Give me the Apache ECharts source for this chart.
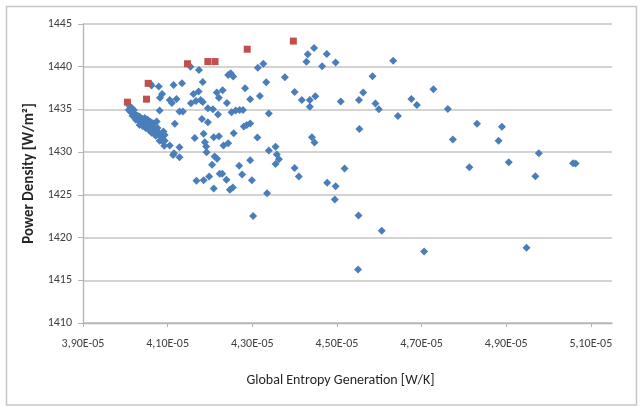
<!DOCTYPE html>
<html>
<head>
<meta charset="utf-8">
<title>Power Density vs Global Entropy Generation</title>
<script src="https://cdn.jsdelivr.net/npm/echarts@6/dist/echarts.min.js"></script>
<style>
  html, body { margin: 0; padding: 0; background: #ffffff; }
  #chart { width: 643px; height: 407px; }
</style>
</head>
<body>
<div id="chart"></div>
<script>
// Entropy generation values are given as mantissas of 1e-5 W/K.
const ENTROPY_UNIT = 1e-5;

// Tick positions on both axes
const entropyTicks = [3.9, 4.1, 4.3, 4.5, 4.7, 4.9, 5.1];
const powerTicks = [1410, 1415, 1420, 1425, 1430, 1435, 1440, 1445];

// All evaluated designs (blue diamonds)
const designEntropy = [
  4.497, 4.633, 4.584, 4.562, 4.552, 4.509, 4.591, 4.599, 4.676, 4.689,
  4.728, 4.762, 4.644, 4.553, 4.774, 4.831, 4.890, 4.882, 4.977, 4.906,
  4.813, 4.969, 5.058, 5.064, 4.518, 4.497, 4.495, 4.551, 4.606, 4.550,
  4.706, 4.948,
  4.113, 4.115, 4.128, 4.192, 4.211, 4.217, 4.205, 4.168, 4.185, 4.198,
  4.209, 4.223, 4.229, 4.239, 4.247, 4.254, 4.269, 4.276, 4.295, 4.299,
  4.302, 4.335, 4.339, 4.358, 4.363, 4.355, 4.400, 4.410, 4.477,
  4.154, 4.174, 4.062, 4.079, 4.087, 4.082, 4.114, 4.134, 4.105, 4.110,
  4.121, 4.081, 4.136, 4.155, 4.161, 4.167, 4.173, 4.183, 4.178, 4.183,
  4.195, 4.207, 4.216, 4.221, 4.230, 4.219, 4.240, 4.243, 4.249, 4.255,
  4.251, 4.261, 4.270, 4.278, 4.283, 4.295, 4.318, 4.313, 4.326, 4.333,
  4.339, 4.377, 4.400, 4.417, 4.436, 4.449, 4.436, 4.431, 4.446, 4.428,
  4.465, 4.476, 4.117, 4.181, 4.195, 4.164, 4.185, 4.188, 4.191, 4.221,
  4.256, 4.243, 4.232, 4.280, 4.287, 4.295, 4.312, 4.355, 4.441, 4.447,
  4.128, 4.105, 4.060, 4.092, 4.081, 4.090, 4.093, 4.088, 4.074, 4.065,
  4.074, 4.209, 4.128,
  4.010, 4.015, 4.020, 4.013, 4.008, 4.017, 4.025, 4.022, 4.029, 4.034,
  4.027, 4.032, 4.036, 4.041, 4.046, 4.039, 4.043, 4.048, 4.053, 4.050,
  4.055, 4.060, 4.058, 4.062, 4.067, 4.034, 4.041, 4.048, 4.055, 4.065,
  4.069, 4.062, 4.074, 4.079, 4.072, 4.084, 4.088, 4.081, 4.093, 4.076,
  4.025, 4.017
];
const designPower = [
  1440.48, 1440.71, 1438.88, 1436.97, 1436.11, 1435.92, 1435.68, 1435.03, 1436.23, 1435.53,
  1437.36, 1435.06, 1434.24, 1432.72, 1431.47, 1433.31, 1432.96, 1431.32, 1429.88, 1428.83,
  1428.24, 1427.19, 1428.71, 1428.67, 1428.08, 1426.02, 1424.45, 1422.59, 1420.80, 1416.27,
  1418.38, 1418.81,
  1429.68, 1429.88, 1429.41, 1430.00, 1429.49, 1429.22, 1428.51, 1426.64, 1426.72, 1427.15,
  1425.74, 1427.46, 1427.46, 1426.76, 1425.59, 1425.86, 1428.40, 1427.38, 1429.06, 1426.72,
  1422.52, 1425.20, 1430.19, 1429.72, 1429.18, 1428.60, 1428.13, 1427.15, 1426.41,
  1440.01, 1439.62, 1437.79, 1437.67, 1436.82, 1436.38, 1437.87, 1438.07, 1436.11, 1435.76,
  1436.23, 1434.86, 1434.75, 1435.73, 1436.82, 1436.00, 1437.09, 1438.22, 1436.11, 1435.88,
  1435.14, 1435.03, 1436.97, 1436.38, 1437.25, 1434.40, 1435.76, 1439.04, 1439.24, 1438.84,
  1434.67, 1434.86, 1434.94, 1434.94, 1437.48, 1436.20, 1436.58, 1439.89, 1440.36, 1438.18,
  1434.51, 1438.77, 1437.05, 1436.11, 1436.11, 1436.55, 1435.30, 1441.46, 1442.19, 1440.59,
  1440.05, 1441.49, 1433.31, 1433.89, 1433.51, 1431.67, 1432.14, 1431.17, 1430.66, 1431.87,
  1432.22, 1431.05, 1430.77, 1433.00, 1433.19, 1433.34, 1431.71, 1430.62, 1431.75, 1431.12,
  1430.58, 1430.77, 1437.99, 1430.74, 1432.14, 1432.41, 1432.02, 1431.28, 1432.52, 1433.39,
  1433.58, 1431.75, 1434.75,
  1435.41, 1435.18, 1434.94, 1434.71, 1434.94, 1434.59, 1434.36, 1434.13, 1434.25, 1434.13,
  1433.89, 1433.66, 1433.78, 1433.89, 1434.01, 1433.42, 1433.54, 1433.66, 1433.78, 1433.31,
  1433.42, 1433.54, 1433.07, 1433.19, 1433.31, 1433.19, 1433.07, 1432.84, 1432.61, 1432.84,
  1432.61, 1432.26, 1432.37, 1432.14, 1431.91, 1431.79, 1431.55, 1431.32, 1431.32, 1432.84,
  1433.78, 1434.25
];

// Pareto-front designs (red squares)
const paretoEntropy = [4.005, 4.050, 4.054, 4.147, 4.195, 4.212, 4.288, 4.397];
const paretoPower = [1435.85, 1436.20, 1438.05, 1440.35, 1440.60, 1440.60, 1442.05, 1443.00];

const FONT = 'Carlito, "Liberation Sans Narrow", "Open Sans", sans-serif';

function toPoints(xs, ys) {
  return xs.map((x, i) => [x * ENTROPY_UNIT, ys[i]]);
}

function formatEntropy(v) {
  return (v / ENTROPY_UNIT).toFixed(2).replace('.', ',') + 'E-05';
}

const chart = echarts.init(document.getElementById('chart'), null, { renderer: 'canvas' });

chart.setOption({
  backgroundColor: '#ffffff',
  animation: false,
  textStyle: { fontFamily: FONT },
  graphic: [{
    type: 'rect',
    z: -1,
    shape: { x: 6.5, y: 6.5, width: 630, height: 398.5 },
    style: { fill: 'none', stroke: '#c6c6c6', lineWidth: 1.5 }
  }],
  grid: {
    left: 83, right: 31, top: 24, bottom: 84,
    containLabel: false,
    outerBoundsMode: 'none'
  },
  xAxis: {
    type: 'value',
    min: entropyTicks[0] * ENTROPY_UNIT,
    max: 5.15 * ENTROPY_UNIT,
    interval: 0.2 * ENTROPY_UNIT,
    name: 'Global Entropy Generation [W/K]',
    nameLocation: 'middle',
    nameGap: 50,
    nameTextStyle: { fontFamily: FONT, fontSize: 14, color: '#262626', padding: [0, 14, 0, 0] },
    axisLine: { show: true, onZero: false, lineStyle: { color: '#b4b4b4', width: 1.3 } },
    axisTick: {
      show: true, inside: false, length: 4,
      customValues: entropyTicks.map(v => v * ENTROPY_UNIT),
      lineStyle: { color: '#b4b4b4', width: 1 }
    },
    axisLabel: {
      customValues: entropyTicks.map(v => v * ENTROPY_UNIT),
      formatter: formatEntropy,
      margin: 15,
      fontFamily: FONT, fontSize: 12, color: '#404040'
    },
    splitLine: { show: false }
  },
  yAxis: {
    type: 'value',
    min: powerTicks[0],
    max: powerTicks[powerTicks.length - 1],
    interval: 5,
    name: 'Power Density [W/m\u00B2]',
    nameLocation: 'middle',
    nameGap: 44,
    nameTextStyle: { fontFamily: FONT, fontSize: 15, fontWeight: 'bold', color: '#262626' },
    axisLine: { show: true, lineStyle: { color: '#b4b4b4', width: 1.3 } },
    axisTick: { show: true, inside: false, length: 5, lineStyle: { color: '#b4b4b4', width: 1 } },
    axisLabel: {
      margin: 11, fontFamily: FONT, fontSize: 12, color: '#404040',
      formatter: v => String(v)
    },
    splitLine: { show: true, lineStyle: { color: '#c4c4c4', width: 1.5 } }
  },
  series: [
    {
      name: 'Designs',
      type: 'scatter',
      symbol: 'diamond',
      symbolSize: 8,
      itemStyle: { color: '#4a7ebb', opacity: 1 },
      data: toPoints(designEntropy, designPower),
      z: 2
    },
    {
      name: 'Pareto front',
      type: 'scatter',
      symbol: 'rect',
      symbolSize: 7,
      itemStyle: { color: '#c0504d', opacity: 1 },
      data: toPoints(paretoEntropy, paretoPower),
      z: 3
    }
  ]
});
</script>
</body>
</html>
